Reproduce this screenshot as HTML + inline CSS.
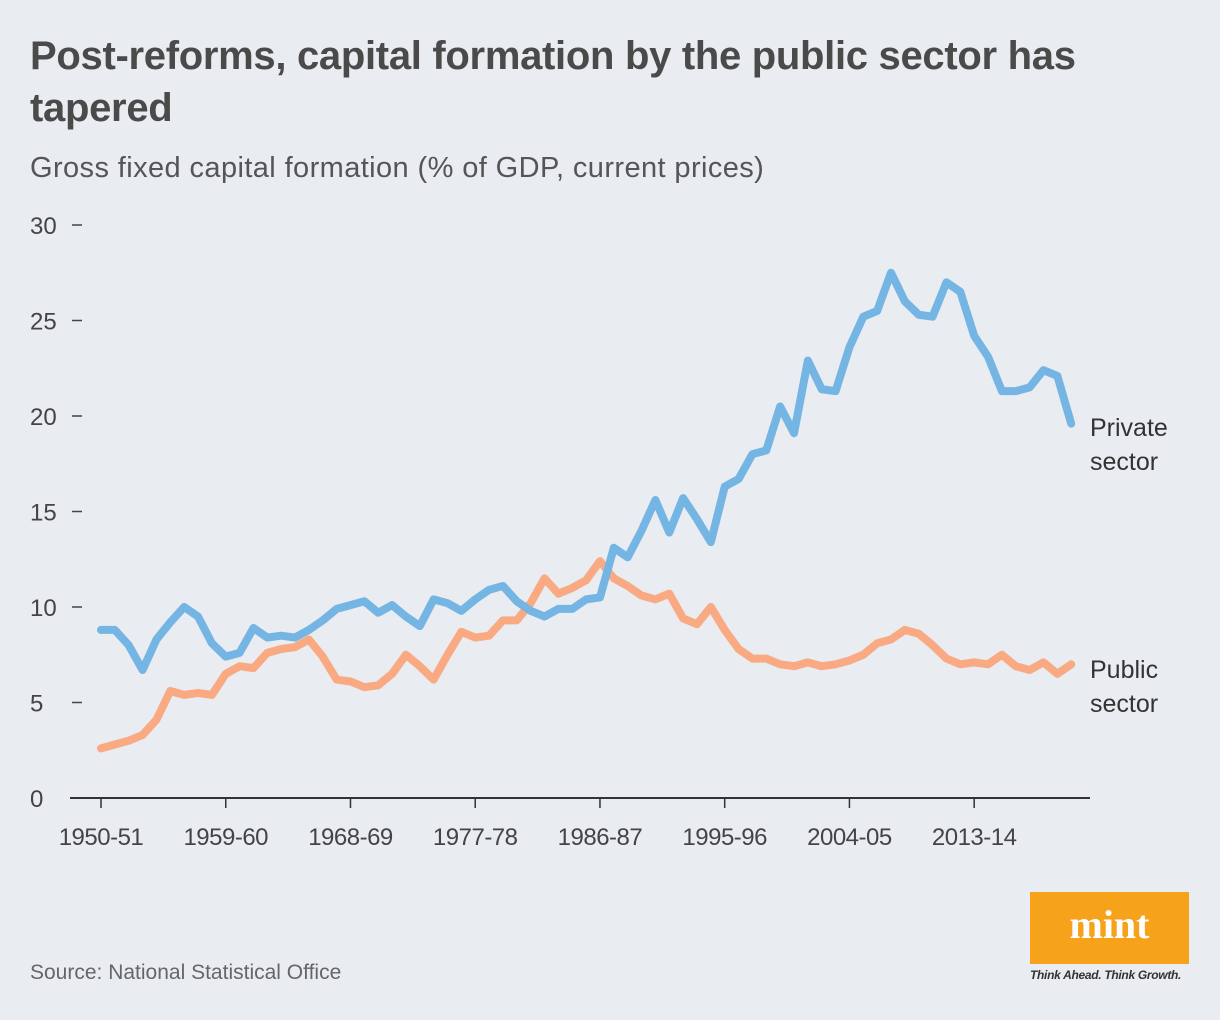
<!DOCTYPE html>
<html><head><meta charset="utf-8"><style>
body{margin:0;width:1220px;height:1020px;background:#e9ecf1;font-family:"Liberation Sans",sans-serif;overflow:hidden;position:relative}
h1{position:absolute;left:30px;top:30px;margin:0;font-size:40px;line-height:52px;font-weight:bold;color:#4a4a4a;width:1110px;letter-spacing:-0.3px}
.sub{position:absolute;left:30px;top:152px;font-size:29px;color:#555;letter-spacing:0.4px}
.src{position:absolute;left:30px;top:961px;font-size:21px;color:#666}
</style></head><body>
<h1>Post-reforms, capital formation by the public sector has tapered</h1>
<div class="sub">Gross fixed capital formation (% of GDP, current prices)</div>
<svg id="chart" width="1220" height="1020" style="position:absolute;left:0;top:0"></svg>
<div class="src">Source: National Statistical Office</div>
<div style="position:absolute;left:1030px;top:892px;width:159px;height:72px;background:#f7a21b;color:#fff;font-family:'Liberation Serif',serif;font-weight:bold;font-size:40px;text-align:center;line-height:66px">mint</div>
<div style="position:absolute;left:1030px;top:968px;font-size:12px;font-style:italic;font-weight:bold;color:#333;letter-spacing:-0.3px">Think Ahead. Think Growth.</div>
<script>
const yTicks=[0,5,10,15,20,25,30];
const xLabels=["1950-51","1959-60","1968-69","1977-78","1986-87","1995-96","2004-05","2013-14"];
const xLabelIdx=[0,9,18,27,36,45,54,63];
const privateSector=[8.8,8.8,8.0,6.7,8.3,9.2,10.0,9.5,8.1,7.4,7.6,8.9,8.4,8.5,8.4,8.8,9.3,9.9,10.1,10.3,9.7,10.1,9.5,9.0,10.4,10.2,9.8,10.4,10.9,11.1,10.3,9.8,9.5,9.9,9.9,10.4,10.5,13.1,12.6,14.0,15.6,13.9,15.7,14.6,13.4,16.3,16.7,18.0,18.2,20.5,19.1,22.9,21.4,21.3,23.6,25.2,25.5,27.5,26.0,25.3,25.2,27.0,26.5,24.2,23.1,21.3,21.3,21.5,22.4,22.1,19.6];
const publicSector=[2.6,2.8,3.0,3.3,4.1,5.6,5.4,5.5,5.4,6.5,6.9,6.8,7.6,7.8,7.9,8.3,7.4,6.2,6.1,5.8,5.9,6.5,7.5,6.9,6.2,7.5,8.7,8.4,8.5,9.3,9.3,10.2,11.5,10.7,11.0,11.4,12.4,11.5,11.1,10.6,10.4,10.7,9.4,9.1,10.0,8.8,7.8,7.3,7.3,7.0,6.9,7.1,6.9,7.0,7.2,7.5,8.1,8.3,8.8,8.6,8.0,7.3,7.0,7.1,7.0,7.5,6.9,6.7,7.1,6.5,7.0];
const NS="http://www.w3.org/2000/svg",svg=document.getElementById('chart');
const x=i=>101+i*13.86, y=v=>798-v*19.1;
function mk(t,a){const e=document.createElementNS(NS,t);for(const k in a)e.setAttribute(k,a[k]);svg.appendChild(e);return e;}
yTicks.forEach(v=>{
 const t=mk('text',{x:30,y:y(v)+9,'font-size':24,fill:'#444','font-family':'Liberation Sans, sans-serif'});t.textContent=v;
 
 
 if(v>0){const l=mk('line',{x1:72,x2:82,y1:y(v),y2:y(v),stroke:'#444','stroke-width':1.5});
 
 }
});
const ax=mk('line',{x1:70,x2:1090,y1:798,y2:798,stroke:'#333','stroke-width':2});


xLabels.forEach((s,k)=>{
 const i=xLabelIdx[k];
 const l=mk('line',{x1:x(i),x2:x(i),y1:798,y2:808,stroke:'#333','stroke-width':1.5});
 
 
 const t=mk('text',{x:x(i),y:845,'font-size':24,fill:'#444','text-anchor':'middle','font-family':'Liberation Sans, sans-serif','letter-spacing':'-0.5'});t.textContent=s;
 
 
});
function line(arr,c,name){
 const p=mk('polyline',{points:arr.map((v,i)=>x(i)+','+y(v)).join(' '),fill:'none',stroke:c,'stroke-width':8,'stroke-linejoin':'round','stroke-linecap':'round'});
 
 
}
line(publicSector,'#f9aa82','public-sector-line');
line(privateSector,'#74b5e4','private-sector-line');
function lab(lines,yy,name){lines.forEach((s,j)=>{const t=mk('text',{x:1090,y:yy+j*34,'font-size':25,fill:'#333','font-family':'Liberation Sans, sans-serif'});t.textContent=s;
 
 });}
lab(['Private','sector'],436,'private-sector-label');
lab(['Public','sector'],678,'public-sector-label');
</script>
</body></html>
